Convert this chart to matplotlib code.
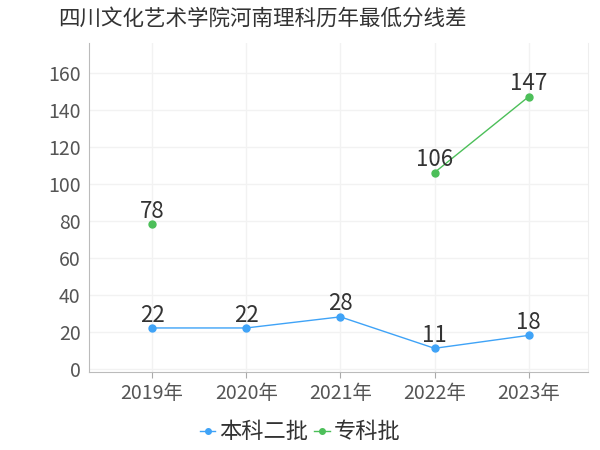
import matplotlib
matplotlib.use("Agg")
import matplotlib.pyplot as plt
import numpy as np

plt.rcParams['font.family'] = ['Noto Sans CJK SC', 'DejaVu Sans']

years = ['2019年', '2020年', '2021年', '2022年', '2023年']
benke2 = [22, 22, 28, 11, 18]
zhuanke = [78, None, None, 106, 147]

title = '四川文化艺术学院河南理科历年最低分线差'
blue = '#3fa3f7'
green = '#4cbf59'

fig = plt.figure(figsize=(6, 4.5), dpi=100)
ax = fig.add_axes([89 / 600, 1 - 372 / 450, (588 - 89) / 600, (372 - 43) / 450])

x = np.arange(len(years))
ax.plot(x, benke2, '-o', color=blue, lw=1, ms=5, label='本科二批')
zk = np.array([np.nan if v is None else v for v in zhuanke], dtype=float)
ax.plot(x, zk, '-o', color=green, lw=1, ms=5, label='专科批')

# data labels just above each point
for series in (benke2, zhuanke):
    for xi, v in zip(x, series):
        if v is not None:
            ax.annotate(str(v), (xi, v), xytext=(0, 1), textcoords='offset points',
                        ha='center', va='bottom', fontsize=16, color='#333333')

ax.set_xlim(-0.67, 4.63)
ax.set_ylim(-1.8, 176)
ax.set_xticks(x)
ax.set_xticklabels(years)
ax.set_yticks(range(0, 161, 20))
ax.tick_params(axis='both', labelsize=14, labelcolor='#555555', length=4, width=0.8)
ax.tick_params(axis='y', length=0, pad=6)
ax.tick_params(axis='x', color='#aaaaaa', pad=4)

ax.grid(True, color='#f2f2f2', lw=1)
ax.set_axisbelow(True)
ax.spines['top'].set_visible(False)
ax.spines['right'].set_color('#eeeeee')
ax.spines['left'].set_color('#bbbbbb')
ax.spines['bottom'].set_color('#bbbbbb')

fig.text(262 / 600, 1 - 19 / 450, title, ha='center', va='center', fontsize=15.5, color='#333333')

leg = fig.legend(loc='center', bbox_to_anchor=(0.5, 1 - 432 / 450), ncol=2, frameon=False,
                 fontsize=16, handlelength=0.7, handletextpad=0.15, columnspacing=0.3,
                 markerscale=0.8)
for t in leg.get_texts():
    t.set_color('#333333')

fig.savefig('out.png', dpi=100)
